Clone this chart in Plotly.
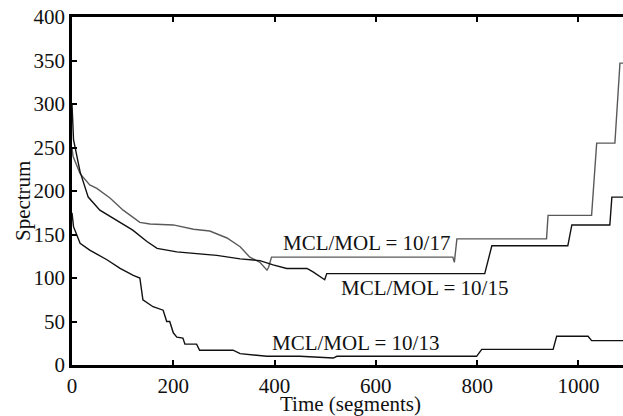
import plotly.graph_objects as go

# MCL/MOL = 10/17 (gray)
x17 = [0, 2, 16, 35, 49, 75, 101, 134, 154, 200, 240, 272, 306, 332, 351, 371, 385, 388,
       394, 752, 755, 760, 937, 940, 1026, 1036, 1072, 1082, 1090]
y17 = [250, 240, 220, 207, 203, 192, 178, 164, 162, 161, 156, 154, 146, 136, 124, 118, 109, 112,
       124, 124, 118, 145, 145, 172, 172, 255, 255, 347, 347]

# MCL/MOL = 10/15 (black)
x15 = [0, 3, 16, 32, 55, 81, 120, 148, 168, 207, 253, 286, 332, 371, 397, 424, 464, 476, 499,
       503, 815, 829, 979, 987, 1062, 1066, 1090]
y15 = [300, 259, 222, 193, 178, 169, 155, 142, 134, 130, 128, 126, 122, 120, 115, 111, 111, 107, 98,
       105, 105, 137, 137, 161, 161, 193, 193]

# MCL/MOL = 10/13 (black)
x13 = [0, 3, 16, 35, 69, 95, 121, 134, 140, 160, 180, 187, 193, 200, 207, 219, 223, 246, 252,
       318, 332, 385, 450, 516, 523, 799, 809, 950, 957, 1019, 1026, 1090]
y13 = [175, 159, 140, 132, 121, 111, 103, 100, 75, 67, 63, 50, 50, 37, 32, 31, 24, 24, 17,
       17, 13, 10, 10, 8, 10, 10, 18, 18, 33, 33, 28, 28]

labels = ["MCL/MOL = 10/17", "MCL/MOL = 10/15", "MCL/MOL = 10/13"]
label_x = [582, 697, 559]
label_y = [140, 88, 25]

x_ticks = [0, 200, 400, 600, 800, 1000]
y_ticks = [0, 50, 100, 150, 200, 250, 300, 350, 400]

FONT = "Liberation Serif, Times New Roman, serif"
FS = 21

fig = go.Figure()
fig.add_trace(go.Scatter(x=x17, y=y17, mode="lines", line=dict(color="#5a5a5a", width=1.4),
                         showlegend=False))
fig.add_trace(go.Scatter(x=x15, y=y15, mode="lines", line=dict(color="#111111", width=1.4),
                         showlegend=False))
fig.add_trace(go.Scatter(x=x13, y=y13, mode="lines", line=dict(color="#111111", width=1.4),
                         showlegend=False))

for t, lx, ly in zip(labels, label_x, label_y):
    fig.add_annotation(x=lx, y=ly, text=t, showarrow=False,
                       font=dict(family=FONT, size=FS, color="#111"))

# axis titles
fig.add_annotation(xref="paper", yref="paper", x=0.506, y=-0.112, text="Time (segments)",
                   xanchor="center", yanchor="middle",
                   showarrow=False, font=dict(family=FONT, size=FS, color="#111"))
fig.add_annotation(xref="paper", yref="paper", x=-0.089, y=0.471, text="Spectrum",
                   xanchor="center", yanchor="middle",
                   textangle=-90, showarrow=False, font=dict(family=FONT, size=FS, color="#111"))

fig.update_layout(
    width=623, height=416,
    margin=dict(l=72, r=0, t=17, b=51),
    paper_bgcolor="white", plot_bgcolor="white",
    font=dict(family=FONT, size=FS, color="#111"),
)
fig.update_xaxes(range=[0, 1088], tickvals=x_ticks, ticks="inside", ticklen=5, tickwidth=2,
                 tickcolor="black", showline=True, linecolor="black", linewidth=2.5,
                 mirror="ticks", showgrid=False, zeroline=False, automargin=False,
                 tickfont=dict(family=FONT, size=FS, color="#111"))
fig.update_yaxes(range=[0, 400], tickvals=y_ticks, ticks="inside", ticklen=5, tickwidth=2,
                 tickcolor="black", showline=True, linecolor="black", linewidth=2.5,
                 showgrid=False, zeroline=False, automargin=False,
                 tickfont=dict(family=FONT, size=FS, color="#111"))

fig.write_html(
    "out.html",
    config={"responsive": False, "displayModeBar": False},
    post_script="document.body.style.margin='0';document.body.style.overflow='hidden';",
)
